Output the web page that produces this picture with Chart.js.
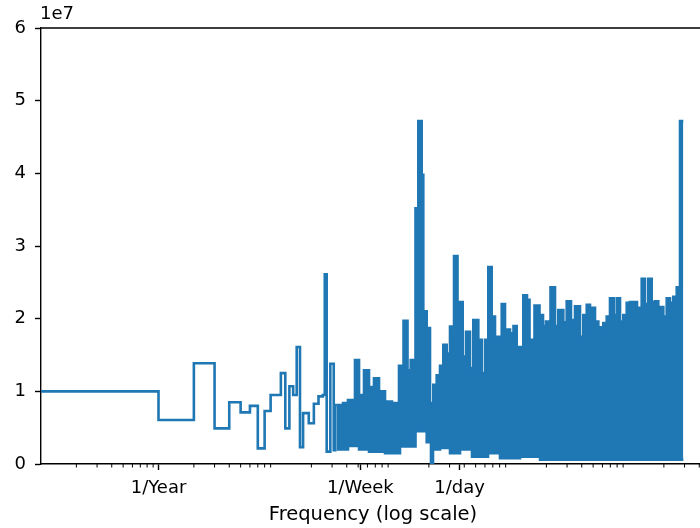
<!DOCTYPE html>
<html><head><meta charset="utf-8">
<script src="https://cdn.jsdelivr.net/npm/chart.js@4.4.1/dist/chart.umd.min.js"></script>
<style>html,body{margin:0;padding:0;background:#fff;overflow:hidden;width:700px;height:528px}canvas{display:block}</style>
</head><body>
<canvas id="c" width="720" height="528"></canvas>
<script>
// Frequency in cycles/year, amplitude |FFT|
const lowFreq = [0.1, 1, 2, 3, 4, 5, 6, 7, 8, 9, 10, 11, 12, 13, 14, 15, 16, 17, 18, 19, 20, 21, 22, 23, 24, 25, 26, 27, 28, 29, 30, 31, 32, 33];
const lowAmp = [1.00e7, 1.00e7, 0.605e7, 1.386e7, 0.49e7, 0.85e7, 0.71e7, 0.80e7, 0.215e7, 0.73e7, 0.95e7, 0.95e7, 1.25e7, 0.49e7, 1.07e7, 0.95e7, 1.61e7, 0.23e7, 0.70e7, 0.70e7, 0.56e7, 0.56e7, 0.83e7, 0.83e7, 0.93e7, 0.93e7, 0.95e7, 2.61e7, 0.17e7, 0.17e7, 1.38e7, 1.38e7, 0.19e7, 0.81e7];

// dense high-frequency region: upper envelope
const upFreq = [33, 37.2, 41.0, 47.0, 50.9, 56.1, 61.9, 68.2, 75.3, 84.7, 97.1, 111.4, 121.7, 131.6, 140.1, 153.9, 162.6, 173.8, 179.3, 191.7, 204.5, 218.1, 233.1, 248.8, 265.4, 283.7, 302.6, 327.4, 350.5, 364.5, 388.0, 414.0, 447.8, 477.6, 526.8, 563.0, 600.7, 640.9, 685.0, 730.8, 779.8, 833.6, 889.1, 980.6, 1050, 1118, 1273, 1368, 1437, 1585, 1748, 1872, 1986, 2169, 2369, 2527, 2787, 2979, 3240, 3505, 3866, 4124, 4410, 4702, 5187, 5534, 6103, 6524, 6958, 7482, 7937, 8468, 9032, 9654, 10299, 11813, 12952, 13816, 14741, 15755, 16807, 17926, 19780, 21141, 22554, 24064, 25720, 27440, 29270];
const upAmp = [0.81e7, 0.81e7, 0.84e7, 0.88e7, 1.43e7, 0.95e7, 1.29e7, 1.06e7, 1.18e7, 1.00e7, 0.86e7, 0.84e7, 1.35e7, 1.97e7, 1.29e7, 1.43e7, 3.52e7, 4.72e7, 3.98e7, 2.10e7, 1.87e7, 0.84e7, 1.09e7, 1.22e7, 1.35e7, 1.64e7, 1.52e7, 1.89e7, 2.86e7, 1.89e7, 2.23e7, 1.48e7, 1.82e7, 1.32e7, 1.98e7, 1.71e7, 1.25e7, 1.71e7, 2.71e7, 2.03e7, 1.75e7, 1.75e7, 2.20e7, 1.85e7, 1.80e7, 1.90e7, 1.61e7, 2.32e7, 2.26e7, 1.71e7, 2.18e7, 2.05e7, 1.90e7, 1.96e7, 2.43e7, 1.90e7, 2.12e7, 1.95e7, 2.24e7, 1.98e7, 2.17e7, 1.75e7, 2.05e7, 2.19e7, 2.15e7, 1.96e7, 1.88e7, 1.94e7, 2.03e7, 2.28e7, 2.05e7, 2.28e7, 1.96e7, 2.05e7, 2.22e7, 2.23e7, 2.15e7, 2.55e7, 2.20e7, 2.55e7, 2.23e7, 2.24e7, 2.16e7, 2.03e7, 2.28e7, 2.22e7, 2.30e7, 2.43e7, 4.72e7];

// dense high-frequency region: lower envelope
const loFreq = [33, 41.0, 50.9, 61.9, 84.7, 113.6, 153.9, 191.7, 208.5, 216.8, 248.8, 302.6, 368.1, 465.7, 637.2, 806.1, 1193, 1766, 29270];
const loAmp = [0.20e7, 0.20e7, 0.25e7, 0.20e7, 0.17e7, 0.15e7, 0.24e7, 0.45e7, 0.30e7, 0.01e7, 0.20e7, 0.22e7, 0.15e7, 0.20e7, 0.10e7, 0.15e7, 0.08e7, 0.10e7, 0.06e7];

const tickValues = [1, 52.1789, 365.2524];
const tickLabels = ['1/Year', '1/Week', '1/day'];
const xTitle = 'Frequency (log scale)';
const offsetLabel = '1e7';

const FONT = 'DejaVu Sans';
const FS = 18;
const FS_TITLE = 19.5;
const BLUE = '#1f77b4';

function pts(xs, ys) { return xs.map((x, i) => ({ x: x, y: ys[i] })); }

const extras = {
  id: 'extras',
  afterDraw(chart) {
    const xs = chart.scales.x, ctx = chart.ctx, a = chart.chartArea;
    ctx.save();
    ctx.strokeStyle = '#000';
    ctx.lineWidth = 1;
    for (let d = -1; d <= 4; d++) {
      for (let m = 2; m <= 9; m++) {
        const v = m * Math.pow(10, d);
        if (v < xs.min || v > xs.max) continue;
        const px = xs.getPixelForValue(v);
        ctx.beginPath();
        ctx.moveTo(px, a.bottom);
        ctx.lineTo(px, a.bottom + 3.5);
        ctx.stroke();
      }
    }
    ctx.lineWidth = 1.4;
    ctx.beginPath();
    ctx.moveTo(a.left, a.top);
    ctx.lineTo(a.right, a.top);
    ctx.lineTo(a.right, a.bottom);
    ctx.stroke();
    ctx.fillStyle = '#000';
    ctx.font = FS + 'px "' + FONT + '"';
    ctx.textAlign = 'left';
    ctx.textBaseline = 'alphabetic';
    ctx.fillText(offsetLabel, a.left - 1, a.top - 9);
    ctx.restore();
  }
};

const common = { showLine: true, stepped: 'after', borderColor: BLUE, borderWidth: 2.6, pointRadius: 0, pointHoverRadius: 0 };

new Chart(document.getElementById('c'), {
  type: 'scatter',
  data: {
    datasets: [
      Object.assign({ data: pts(lowFreq, lowAmp), fill: false }, common),
      Object.assign({ data: pts(upFreq, upAmp), fill: '+1', backgroundColor: BLUE }, common),
      Object.assign({ data: pts(loFreq, loAmp), fill: false }, common)
    ]
  },
  options: {
    responsive: false,
    animation: false,
    devicePixelRatio: 1,
    layout: { padding: { top: 28, right: 15, left: 0, bottom: 0 } },
    plugins: { legend: { display: false }, tooltip: { enabled: false } },
    scales: {
      x: {
        type: 'logarithmic', min: 0.1, max: 44770,
        afterBuildTicks: s => { s.ticks = tickValues.map(v => ({ value: v })); },
        afterFit: s => { s.height = 64; },
        ticks: { autoSkip: false, maxRotation: 0, minRotation: 0, padding: 8, color: '#000', font: { family: FONT, size: FS }, callback: (v, i) => tickLabels[i] },
        grid: { display: true, drawOnChartArea: false, drawTicks: true, tickLength: 6, tickColor: '#000', tickWidth: 1.4 },
        border: { display: true, color: '#000', width: 1.4 },
        title: { display: true, text: xTitle, color: '#000', font: { family: FONT, size: FS_TITLE }, padding: { top: 0, bottom: 1 } }
      },
      y: {
        min: 0, max: 6e7,
        afterFit: s => { s.width = 41; },
        ticks: { stepSize: 1e7, padding: 9, color: '#000', font: { family: FONT, size: FS }, callback: v => String(v / 1e7) },
        grid: { display: true, drawOnChartArea: false, drawTicks: true, tickLength: 6, tickColor: '#000', tickWidth: 1.4 },
        border: { display: true, color: '#000', width: 1.4 }
      }
    }
  },
  plugins: [extras]
});
</script>
</body></html>
